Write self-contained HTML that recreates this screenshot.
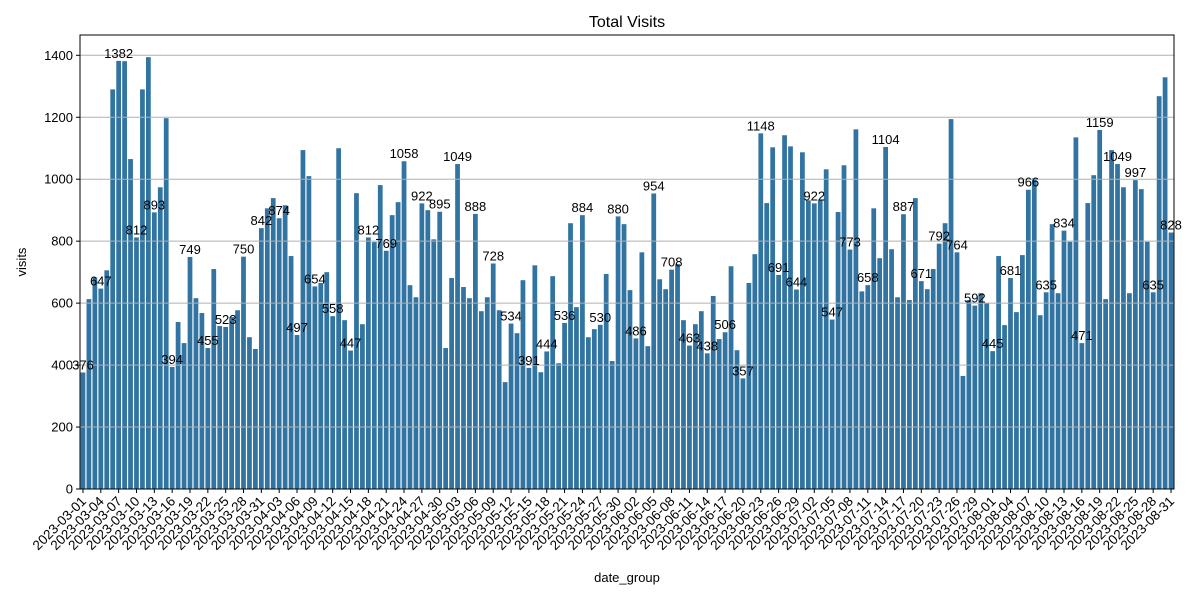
<!DOCTYPE html>
<html><head><meta charset="utf-8"><style>
html,body{margin:0;padding:0;background:#fff;}
svg{display:block;font-family:"Liberation Sans","DejaVu Sans",sans-serif;}
</style></head><body>
<svg id="chart" width="1200" height="600" xmlns="http://www.w3.org/2000/svg">
<rect x="0" y="0" width="1200" height="600" fill="#fff"/>
<text x="627" y="27" font-size="16" text-anchor="middle">Total Visits</text>
<text x="26" y="262" font-size="13" text-anchor="middle" transform="rotate(-90 26 262)">visits</text>
<text x="627" y="582" font-size="13" text-anchor="middle">date_group</text>
<g id="bars"></g>
<g id="grid"></g>
<g id="labels"></g>
<g id="axes"></g>
</svg>
<script>
const visits = [376,613,683,647,706,1290,1382,1381,1065,812,1290,1394,893,974,1197,394,539,471,749,616,568,455,710,526,523,555,577,750,490,452,842,906,939,874,916,752,497,1094,1010,654,665,700,558,1100,545,447,955,532,812,797,981,769,884,926,1058,658,619,922,900,806,895,455,681,1049,652,616,888,574,619,728,577,345,534,503,674,391,722,377,444,687,406,536,858,587,884,490,516,530,694,413,880,855,642,486,764,461,954,677,645,708,726,545,463,532,574,438,623,484,506,719,448,357,665,758,1148,923,1103,691,1142,1106,644,1087,932,922,932,1032,547,894,1045,773,1161,638,658,906,745,1104,774,619,887,610,939,671,645,710,792,858,1194,764,365,610,592,632,600,445,752,529,681,571,755,966,1003,561,635,855,632,834,798,1135,471,923,1013,1159,613,1094,1049,974,632,997,968,798,635,1268,1329,828];
const yTicks = [0,200,400,600,800,1000,1200,1400];
const startDate = [2023,3,1];

const NS="http://www.w3.org/2000/svg";
const L=80,R=1174,T=35,B=489;
const yMax=1400, y0px=489, y1400px=55.3;
function yScale(v){return y0px-(v/yMax)*(y0px-y1400px);}
const n=visits.length, step=(R-L)/n;
function xCenter(i){return L+step*(i+0.5);}
function mk(tag,attrs,parent){const e=document.createElementNS(NS,tag);for(const k in attrs)e.setAttribute(k,attrs[k]);parent.appendChild(e);return e;}
function dateLabel(i){const d=new Date(Date.UTC(startDate[0],startDate[1]-1,startDate[2]+i));return d.toISOString().slice(0,10);}

const grid=document.getElementById('grid'),bars=document.getElementById('bars'),labels=document.getElementById('labels'),axes=document.getElementById('axes');
yTicks.forEach(t=>{
  const y=yScale(t);
  const g=mk('line',{x1:L,x2:R,y1:y,y2:y,stroke:'#b0b0b0','stroke-width':1},grid);
  
  
  const tk=mk('line',{x1:L-4,x2:L,y1:y,y2:y,stroke:'#000','stroke-width':1},axes);
  
  
  const tx=mk('text',{x:L-7,y:y+4.5,'font-size':13,'text-anchor':'end'},axes);
  tx.textContent=t;
  
  
});
visits.forEach((v,i)=>{
  const w=step*0.8, x=xCenter(i)-w/2, y=yScale(v);
  const r=mk('rect',{x:x,y:y,width:w,height:B-y,fill:'#3274a1'},bars);
  
  
  if(i%3===0){
    const t=mk('text',{x:xCenter(i),y:y-3,'font-size':13,'text-anchor':'middle'},labels);
    t.textContent=v;
    
    
    const xt=xCenter(i);
    const tk=mk('line',{x1:xt,x2:xt,y1:B,y2:B+4,stroke:'#000','stroke-width':1},axes);
    
    
    const ax=xt+4, ay=B+13;
    const lb=mk('text',{x:ax,y:ay,'font-size':13.5,'text-anchor':'end',transform:'rotate(-45 '+ax+' '+ay+')'},axes);
    lb.textContent=dateLabel(i);
    
    
  }
});
const frame=mk('rect',{x:L,y:T,width:R-L,height:B-T,fill:'none',stroke:'#000','stroke-width':1},axes);


</script>
</body></html>
